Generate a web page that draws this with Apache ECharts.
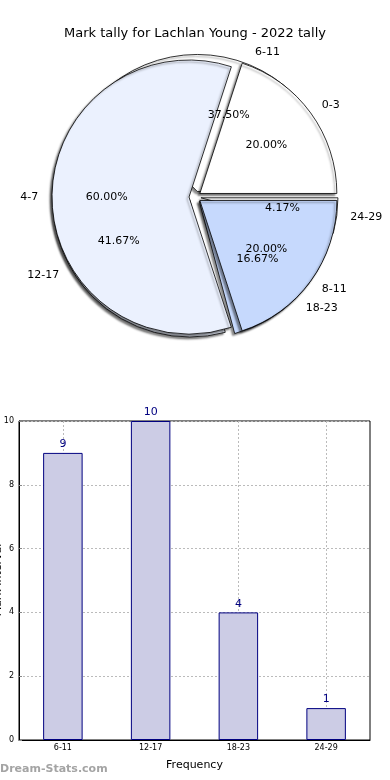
<!DOCTYPE html>
<html>
<head>
<meta charset="utf-8">
<script src="https://cdn.jsdelivr.net/npm/echarts@6/dist/echarts.min.js"></script>
<style>
html,body{margin:0;padding:0;background:#fff;}
#c{width:390px;height:780px;}
</style>
</head>
<body>
<div id="c"></div>
<script>
// ---- data ----
const titleText = 'Mark tally for Lachlan Young - 2022 tally';
const pieACategories = ['0-3', '4-7', '8-11'];
const pieAValues = [20, 60, 20];
const pieBCategories = ['6-11', '12-17', '18-23', '24-29'];
const pieBValues = [9, 10, 4, 1];
const barCategories = ['6-11', '12-17', '18-23', '24-29'];
const barValues = [9, 10, 4, 1];
const xAxisName = 'Frequency';
const yAxisName = 'Mark Interval';
const watermark = 'Dream-Stats.com';

// ---- styles ----
const FONT = 'DejaVu Sans';
const pieAColors = ['#FFFFFF', '#EBF1FE', '#C6D9FD'];
const pieBColors = ['#FFFFFF', '#EBF1FE', '#C6D9FD', '#FFFFFF'];
const CX = 195, CY = 197, R = 137, EXPL = 6;

function sectorData(cats, vals, colors, transparent) {
  return cats.map((n, i) => ({
    name: n, value: vals[i], selected: true,
    itemStyle: transparent ? { color: 'rgba(0,0,0,0)' } : { color: colors[i] }
  }));
}

function nameSeries(cats, vals, colors) {
  return {
    type: 'pie', center: [CX, CY], radius: [0, R],
    startAngle: 0, clockwise: false,
    selectedMode: 'multiple', selectedOffset: EXPL,
    avoidLabelOverlap: false, animation: false, silent: true,
    labelLayout: { hideOverlap: false },
    itemStyle: { borderColor: '#000', borderWidth: 0.8,
      shadowColor: 'rgba(0,0,0,0.45)', shadowBlur: 2, shadowOffsetX: -2, shadowOffsetY: 2 },
    select: { itemStyle: { borderColor: '#000', borderWidth: 0.8 } },
    label: { show: true, position: 'outside', alignTo: 'none', distanceToLabelLine: 0,
      color: '#000', fontFamily: FONT, fontSize: 11, formatter: '{b}' },
    labelLine: { show: false, length: R * 0.1, length2: 0 },
    data: sectorData(cats, vals, colors, false)
  };
}

function pctSeries(cats, vals) {
  const total = vals.reduce((a, b) => a + b, 0);
  return {
    type: 'pie', center: [CX, CY], radius: [0, R * 1.2 - 6],
    startAngle: 0, clockwise: false,
    selectedMode: 'multiple', selectedOffset: EXPL,
    avoidLabelOverlap: false, animation: false, silent: true, z: 5,
    labelLayout: { hideOverlap: false },
    itemStyle: { color: 'rgba(0,0,0,0)', borderWidth: 0 },
    select: { itemStyle: { borderWidth: 0 } },
    label: { show: true, position: 'inside', color: '#000', fontFamily: FONT, fontSize: 11,
      formatter: p => (p.value / total * 100).toFixed(2) + '%' },
    labelLine: { show: false },
    data: sectorData(cats, vals, null, true)
  };
}

const chart = echarts.init(document.getElementById('c'), null, { renderer: 'canvas' });
chart.setOption({
  backgroundColor: '#fff',
  animation: false,
  textStyle: { fontFamily: FONT },
  title: { text: titleText, left: 'center', top: 22,
    textStyle: { fontFamily: FONT, fontSize: 13, fontWeight: 'normal', color: '#000' } },
  graphic: [
    { type: 'text', left: 0, top: 764,
      style: { text: watermark, fill: '#a4a4a4', font: 'bold 11px "DejaVu Sans"' } },
    { type: 'text', x: -2, y: 580, rotation: Math.PI / 2,
      style: { text: yAxisName, fill: '#000', font: '11px "DejaVu Sans"', align: 'center', verticalAlign: 'middle' } }
  ],
  grid: { left: 19, right: 20, top: 421, bottom: 40, containLabel: false, outerBoundsMode: 'none',
    show: true, borderColor: '#000', borderWidth: 1 },
  xAxis: {
    type: 'category', data: barCategories, boundaryGap: true,
    name: xAxisName, nameLocation: 'middle', nameGap: 20,
    nameTextStyle: { fontFamily: FONT, fontSize: 11, color: '#000' },
    axisLine: { lineStyle: { color: '#000' } },
    axisTick: { show: true, alignWithLabel: true, inside: true, length: 3, lineStyle: { color: '#888' } },
    axisLabel: { fontFamily: FONT, fontSize: 8, color: '#000', margin: 4 },
    splitLine: { show: true, alignWithLabel: true, lineStyle: { color: '#bbb', type: [2, 2], width: 1 } }
  },
  yAxis: {
    type: 'value', min: 0, max: 10, interval: 2,
    axisLine: { show: true, lineStyle: { color: '#000' } },
    axisTick: { show: true, inside: true, length: 3, lineStyle: { color: '#888' } },
    axisLabel: { fontFamily: FONT, fontSize: 8, color: '#000', margin: 5 },
    splitLine: { show: true, lineStyle: { color: '#bbb', type: [2, 2], width: 1 } }
  },
  series: [
    nameSeries(pieBCategories, pieBValues, pieBColors),
    nameSeries(pieACategories, pieAValues, pieAColors),
    pctSeries(pieBCategories, pieBValues),
    pctSeries(pieACategories, pieAValues),
    {
      type: 'bar', data: barValues, barWidth: '45%',
      itemStyle: { color: '#CCCCE5', borderColor: '#000080', borderWidth: 1 },
      label: { show: true, position: 'top', distance: 3, color: '#000080', fontFamily: FONT, fontSize: 11 },
      z: 3
    }
  ]
});
</script>
</body>
</html>
